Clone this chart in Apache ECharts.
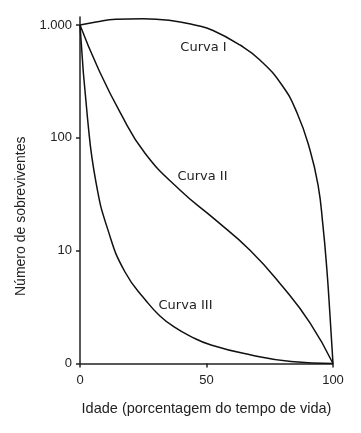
<!DOCTYPE html>
<html><head><meta charset="utf-8">
<script src="https://cdn.jsdelivr.net/npm/echarts@6/dist/echarts.min.js"></script>
<style>html,body{margin:0;padding:0;background:#fff}#c{width:361px;height:433px}</style>
</head><body><div id="c"></div>
<script>
const xTicks = [0, 50, 100];
const yTicks = [1, 10, 100, 1000];
const yTickLabels = ['0', '10', '100', '1.000'];
const curveI = [[0,1000],[6.3,1064],[14.2,1124],[24.9,1137],[35.2,1101],[45.8,994],[52.6,894],[63.2,665],[71.1,490],[79.8,294],[85.8,166],[90.9,78],[94.1,38],[96.0,16.9],[97.6,6.7],[98.8,2.69],[100,1]];
const curveII = [[0,1000],[7.1,416],[15.8,169],[25.7,73],[39.5,34.5],[52.6,19.5],[67.2,10.1],[80.2,4.76],[90.9,2.29],[100,1]];
const curveIII = [[0,1000],[2.96,150],[6.32,40.2],[11.07,15.2],[17.79,6.47],[26.5,3.51],[31.6,2.64],[37.2,2.11],[43.5,1.75],[51.8,1.46],[67.6,1.19],[83.4,1.04],[100,1]];
const curveNames = ['Curva I', 'Curva II', 'Curva III'];
const labelPos = [[48.8, 631], [48.4, 45], [41.7, 3.23]];

const chart = echarts.init(document.getElementById('c'), null, {renderer: 'canvas'});
const font = 'Liberation Sans, Arial, sans-serif';
function series(data, i) {
  return {
    type: 'line', data: data, smooth: 0.5, symbol: 'none', silent: true,
    lineStyle: {color: '#111', width: 1.5},
    markPoint: {
      symbol: 'circle', symbolSize: 0, silent: true,
      label: {show: true, position: 'inside', formatter: curveNames[i], color: '#222', fontSize: 13, fontFamily: 'DejaVu Sans, Verdana, sans-serif'},
      data: [{coord: labelPos[i]}]
    }
  };
}
chart.setOption({
  animation: false,
  grid: {left: 80, top: 17, width: 253, height: 346.5, containLabel: false},
  xAxis: {
    type: 'value', min: 0, max: 100, interval: 50,
    name: 'Idade (porcentagem do tempo de vida)', nameLocation: 'middle', nameGap: 38,
    nameTextStyle: {color: '#222', fontSize: 14.5, fontFamily: font},
    axisLine: {lineStyle: {color: '#222', width: 1.5}},
    axisTick: {show: true, length: 4, lineStyle: {color: '#222', width: 1.5}},
    axisLabel: {color: '#222', fontSize: 13, fontFamily: font, margin: 10},
    splitLine: {show: false}
  },
  yAxis: {
    type: 'log', logBase: 10, min: 1, max: 1177,
    name: 'Número de sobreviventes', nameLocation: 'middle', nameGap: 47, nameRotate: 90,
    nameTextStyle: {color: '#222', fontSize: 14, fontFamily: font, padding: [0, 52, 0, 0]},
    axisLine: {lineStyle: {color: '#222', width: 1.5}},
    axisTick: {show: true, length: 4, customValues: yTicks, lineStyle: {color: '#222', width: 1.5}},
    axisLabel: {color: '#222', fontSize: 13, fontFamily: font, margin: 8, customValues: yTicks,
      formatter: v => { const i = yTicks.findIndex(t => Math.abs(t - v) < 1e-6 * t); return i >= 0 ? yTickLabels[i] : ''; }},
    splitLine: {show: false}
  },
  series: [series(curveI, 0), series(curveII, 1), series(curveIII, 2)]
});
</script></body></html>
